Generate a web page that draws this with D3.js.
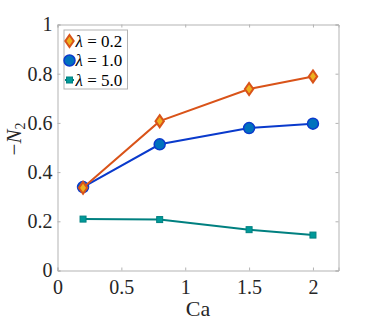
<!DOCTYPE html>
<html>
<head>
<script src="https://d3js.org/d3.v7.min.js"></script>
<style>
	body, html { margin: 0; padding: 0; background: #fff; }
	.axis path, .axis line { stroke: #b3b3b3; }
</style>
</head>
<body>
<script>
	var caValues = [0.2, 0.8, 1.5, 2.0];
	var lam02 = [0.336, 0.607, 0.738, 0.789];
	var lam10 = [0.339, 0.513, 0.579, 0.597];
	var lam50 = [0.209, 0.207, 0.166, 0.144];
	var seriesNames = ["0.2", "1.0", "5.0"];
	var xTicks = [0, 0.5, 1, 1.5, 2];
	var yTicks = [0, 0.2, 0.4, 0.6, 0.8, 1];

	var serif = "Liberation Serif";
	var w = 374, h = 326;
	var margin = {top: 24.5, right: 35.5, bottom: 55.5, left: 57.5};
	var width = w - margin.left - margin.right;
	var height = h - margin.top - margin.bottom;

	var x = d3.scaleLinear().domain([0, 2.2]).range([0, width]);
	var y = d3.scaleLinear().domain([0, 1]).range([height, 0]);

	var svg = d3.select("body").append("svg").attr("width", w).attr("height", h);
	var g = svg.append("g").attr("transform", "translate(" + margin.left + "," + margin.top + ")");

	// axes with inward ticks, box on
	var xa = g.append("g").attr("class", "axis").attr("transform", "translate(0," + height + ")")
		.call(d3.axisBottom(x).tickValues(xTicks).tickSize(-3).tickPadding(9).tickFormat(d3.format("")));
	g.append("g").attr("class", "axis")
		.call(d3.axisTop(x).tickValues(xTicks).tickSize(-3).tickFormat(""));
	var ya = g.append("g").attr("class", "axis")
		.call(d3.axisLeft(y).tickValues(yTicks).tickSize(-3).tickPadding(5).tickFormat(d3.format("")));
	g.append("g").attr("class", "axis").attr("transform", "translate(" + width + ",0)")
		.call(d3.axisRight(y).tickValues(yTicks).tickSize(-3).tickFormat(""));
	g.selectAll(".axis").attr("font-family", null).attr("font-size", null);
	g.selectAll(".tick text").style("font-family", serif).style("font-size", "20px").attr("fill", "#262626");

	var series = [
		{name: seriesNames[0], values: lam02, line: "#d95319", fill: "#edb120", shape: "diamond"},
		{name: seriesNames[1], values: lam10, line: "#0a3acc", fill: "#0072bd", shape: "circle"},
		{name: seriesNames[2], values: lam50, line: "#008080", fill: "#009999", shape: "square"}
	];

	function marker(sel, s) {
		if (s.shape == "diamond") {
			sel.append("path").attr("d", "M0,-6L4.2,0L0,6L-4.2,0Z")
				.attr("fill", s.fill).attr("stroke", s.line).attr("stroke-width", 2);
		} else if (s.shape == "circle") {
			sel.append("circle").attr("r", 5.5)
				.attr("fill", s.fill).attr("stroke", s.line).attr("stroke-width", 1.5);
		} else {
			sel.append("rect").attr("x", -3).attr("y", -3).attr("width", 6).attr("height", 6)
				.attr("fill", s.fill).attr("stroke", s.line).attr("stroke-width", 1);
		}
	}

	var line = d3.line().x(function(d, i){ return x(caValues[i]); }).y(function(d){ return y(d); });

	// draw in reverse so lambda=0.2 sits on top
	series.slice().reverse().forEach(function(s){
		g.append("path").datum(s.values).attr("d", line)
			.attr("fill", "none").attr("stroke", s.line).attr("stroke-width", 2);
		s.values.forEach(function(v, i){
			var m = g.append("g").attr("transform", "translate(" + x(caValues[i]) + "," + y(v) + ")");
			marker(m, s);
		});
	});

	// legend
	var lg = svg.append("g").attr("transform", "translate(64,30)");
	lg.append("rect").attr("width", 63.5).attr("height", 59).attr("fill", "#fff").attr("stroke", "#b3b3b3");
	series.forEach(function(s, i){
		var row = lg.append("g").attr("transform", "translate(0," + (11 + i * 19.5) + ")");
		row.append("line").attr("x1", 1).attr("x2", 10).attr("stroke", s.line).attr("stroke-width", 2);
		var m = row.append("g").attr("transform", "translate(5.5,0)");
		marker(m, s);
		var t = row.append("text").attr("x", 11.5).attr("y", 5.5)
			.style("font-family", serif).style("font-size", "17px").attr("fill", "#000");
		t.append("tspan").style("font-style", "italic").text("\u03bb");
		t.append("tspan").text(" = " + s.name);
	});

	// axis titles
	svg.append("text").attr("x", margin.left + x(1.1)).attr("y", 316)
		.attr("text-anchor", "middle").style("font-family", serif)
		.style("font-size", "22px").attr("fill", "#262626").text("Ca");
	var yl = svg.append("text").attr("transform", "translate(21,139) rotate(-90)")
		.attr("text-anchor", "middle").style("font-family", serif)
		.style("font-size", "21px").attr("fill", "#262626");
	yl.append("tspan").text("\u2212");
	yl.append("tspan").style("font-style", "italic").text("N");
	yl.append("tspan").style("font-size", "14px").attr("dy", 4).text("2");
</script>
</body>
</html>
